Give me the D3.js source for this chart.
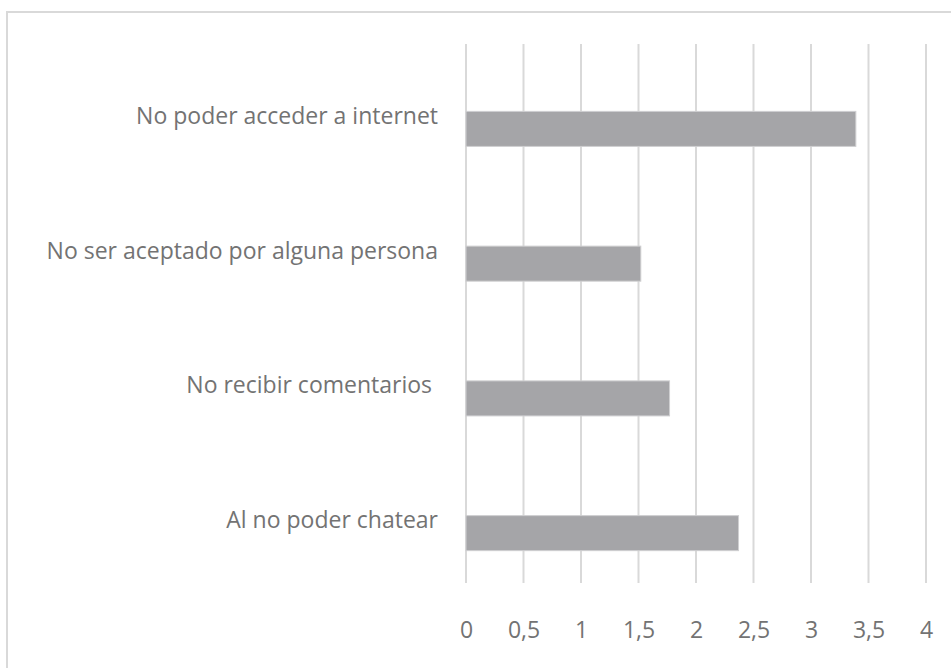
<!DOCTYPE html>
<html lang="es">
<head>
<meta charset="utf-8">
<title>Bar chart</title>
<script src="https://d3js.org/d3.v7.min.js"></script>
<style>
  body { margin: 0; background: #fff; }
  text { font-family: "Open Sans", sans-serif; fill: #737373; }
</style>
</head>
<body>
<script>
  var width = 951,
      height = 668;

  // data
  var categories = ["No poder acceder a internet",
                    "No ser aceptado por alguna persona",
                    "No recibir comentarios ",
                    "Al no poder chatear"];
  var values = [3.39, 1.52, 1.77, 2.37];
  var tickValues = [0, 0.5, 1, 1.5, 2, 2.5, 3, 3.5, 4];

  var margin = {top: 44, right: 25, bottom: 85, left: 466};

  var svg = d3.select("body").append("svg")
              .attr("width", width)
              .attr("height", height);

  // outer chart border
  svg.append("rect")
     .attr("x", 7).attr("y", 12)
     .attr("width", width + 10).attr("height", height + 10)
     .attr("fill", "none")
     .attr("stroke", "#d9d9d9")
     .attr("stroke-width", 2);

  var x = d3.scaleLinear()
            .domain([0, 4])
            .range([margin.left, width - margin.right]);

  var y = d3.scaleBand()
            .domain(categories)
            .range([margin.top, height - margin.bottom]);

  // vertical gridlines
  svg.append("g")
     .selectAll("line")
     .data(tickValues)
     .join("line")
       .attr("x1", d => x(d)).attr("x2", d => x(d))
       .attr("y1", margin.top).attr("y2", height - margin.bottom)
       .attr("stroke", "#d9d9d9")
       .attr("stroke-width", 2);

  // bars sit in the lower half of each band (second series slot)
  var barH = y.bandwidth() * 0.26;
  svg.append("g")
     .selectAll("rect")
     .data(values)
     .join("rect")
       .attr("x", x(0))
       .attr("y", (d, i) => y(categories[i]) + y.bandwidth() / 2)
       .attr("width", d => x(d) - x(0))
       .attr("height", barH)
       .attr("fill", "#a5a5a8")
       .attr("stroke", "#cfcfd1")
       .attr("stroke-width", 1);

  // category labels
  svg.append("g")
     .selectAll("text")
     .data(categories)
     .join("text")
       .attr("x", margin.left - 28)
       .attr("y", d => y(d) + y.bandwidth() / 2)
       .attr("dy", "0.54em")
       .attr("text-anchor", "end")
       .attr("font-size", 23)
       .style("white-space", "pre")
       .text(d => d);

  // x axis labels
  var axis = svg.append("g")
     .attr("transform", `translate(0,${height - margin.bottom})`)
     .call(d3.axisBottom(x)
       .tickValues(tickValues)
       .tickSize(0)
       .tickPadding(39)
       .tickFormat(d => String(d).replace(".", ",")));
  axis.select(".domain").remove();
  axis.selectAll("text")
      .attr("font-size", 23)
      .attr("fill", "#737373")
      .style("font-family", "'Open Sans', sans-serif");
</script>
</body>
</html>
